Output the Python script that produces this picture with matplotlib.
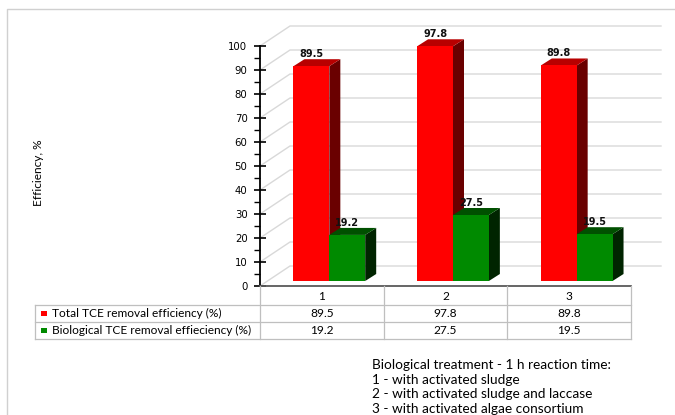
import matplotlib.pyplot as plt
from matplotlib.patches import Polygon, Rectangle
from matplotlib.transforms import Affine2D, blended_transform_factory

categories = ['1', '2', '3']
total_removal = [89.5, 97.8, 89.8]
bio_removal = [19.2, 27.5, 19.5]
series_names = ['Total TCE removal efficiency (%)',
                'Biological TCE removal effieciency (%)']
y_ticks = list(range(0, 101, 10))
note_lines = ['Biological treatment - 1 h reaction time:',
              '1 - with activated sludge',
              '2 - with activated sludge and laccase',
              '3 - with activated algae consortium']

# face colours: front, top, side
RED = ('#FF0000', '#B80000', '#6A0000')
GREEN = ('#008A00', '#005000', '#002400')
GRID = '#D9D9D9'
TBL = '#BFBFBF'
TXT_FONT = ['Lato', 'DejaVu Sans']

W, H = 675, 415
fig = plt.figure(figsize=(W / 100, H / 100), dpi=100)
# helper transform: pixels from the top-left corner
pix = Affine2D().scale(1 / W, -1 / H).translate(0, 1) + fig.transFigure

# outer frame
fig.add_artist(plt.Line2D([7, 7, W], [H, 9, 9], transform=pix, color='#D0D0D0', lw=1))

ax = fig.add_axes([260 / W, 1 - 286 / H, 371 / W, 240 / H])
ax.set_xlim(0, 3)
ax.set_ylim(0, 100)
ax.patch.set_visible(False)
for s in ['top', 'right', 'bottom']:
    ax.spines[s].set_visible(False)
ax.spines['left'].set_linewidth(1.3)
ax.spines['left'].set_zorder(5)
ax.set_xticks([])
ax.set_yticks(y_ticks)
ax.set_yticks(range(5, 100, 10), minor=True)
ax.tick_params(axis='y', which='major', direction='inout', length=8, width=1.2,
               labelsize=7.3, pad=5)
ax.tick_params(axis='y', which='minor', direction='out', length=4, width=1)

# pixels per data unit, to turn the 3-d depth offsets into data units
p0 = ax.transData.transform((0, 0))
p1 = ax.transData.transform((1, 1))
sx, sy = p1 - p0


def depth(dx_px, dy_px):
    return dx_px / sx, dy_px / sy


# back wall grid with the diagonal floor/wall edges
wx, wy = depth(30, 20)
for y in y_ticks:
    ax.plot([0, wx, 3 + wx], [y, y + wy, y + wy], color=GRID, lw=1,
            clip_on=False, zorder=0)

fx, fy = depth(7.5, 5)   # bars sit a little behind the front plane
bx, by = depth(11, 7)    # bar depth
bar_w = 0.29


def draw_bar(x0, h, cols):
    xl = x0 + fx
    xr = xl + bar_w
    y0, y1 = fy, h + fy
    ax.add_patch(Polygon([(xr, y0), (xr + bx, y0 + by), (xr + bx, y1 + by), (xr, y1)],
                         closed=True, fc=cols[2], ec='none', clip_on=False, zorder=2))
    ax.add_patch(Polygon([(xl, y1), (xr, y1), (xr + bx, y1 + by), (xl + bx, y1 + by)],
                         closed=True, fc=cols[1], ec='none', clip_on=False, zorder=2))
    ax.add_patch(Rectangle((xl, y0), bar_w, h, fc=cols[0], ec='none',
                           clip_on=False, zorder=2))
    ax.text(xl + bar_w / 2, y1 + by, f'{h}', ha='center', va='bottom',
            fontsize=7, fontweight='bold', color='#111111', zorder=4)


for i in range(len(categories)):
    draw_bar(i + 0.21, total_removal[i], RED)
    draw_bar(i + 0.50, bio_removal[i], GREEN)

ax.text(38, 173, 'Efficiency, %', transform=pix, rotation=90, ha='center',
        va='center', fontsize=8.6, family=TXT_FONT)

# data table under the plot
tx = blended_transform_factory(ax.transData, pix)
fig.add_artist(plt.Line2D([0, 3], [286, 286], transform=tx, color='#595959', lw=1.3))
for yy in [305, 322, 339]:
    fig.add_artist(plt.Line2D([35, 631], [yy, yy], transform=pix, color=TBL, lw=0.9))
for xx in range(4):
    fig.add_artist(plt.Line2D([xx, xx], [286, 339], transform=tx, color=TBL, lw=0.9))
fig.add_artist(plt.Line2D([35, 35], [305, 339], transform=pix, color=TBL, lw=0.9))

row_y = [313.5, 330.5]
for i, c in enumerate(categories):
    fig.text(i + 0.5, 296, c, transform=tx, ha='center', va='center',
             fontsize=8.6, family=TXT_FONT)
    for vals, ry in zip([total_removal, bio_removal], row_y):
        fig.text(i + 0.5, ry, f'{vals[i]}', transform=tx, ha='center',
                 va='center', fontsize=8.6, family=TXT_FONT)

for name, ry, cols in zip(series_names, row_y, [RED, GREEN]):
    fig.add_artist(Rectangle((41, ry - 2.5), 6, 5, transform=pix,
                             fc=cols[0], ec='none'))
    fig.text(52, ry, name, transform=pix, ha='left', va='center',
             fontsize=8.6, family=TXT_FONT)

for k, line in enumerate(note_lines):
    fig.text(372, 365 + 14.5 * k, line, transform=pix, ha='left', va='center',
             fontsize=9.8, family=TXT_FONT)

fig.savefig('out.png', dpi=100)
